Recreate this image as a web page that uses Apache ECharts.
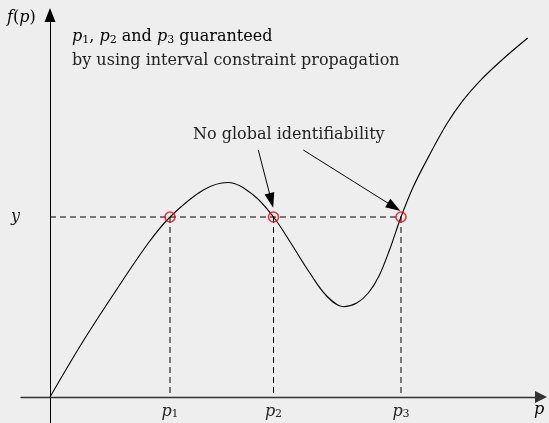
<!DOCTYPE html>
<html>
<head>
<meta charset="utf-8">
<script src="https://cdn.jsdelivr.net/npm/echarts@6/dist/echarts.min.js"></script>
<style>
  html, body { margin: 0; padding: 0; background: #eeeeee; }
  #chart { width: 549px; height: 423px; }
</style>
</head>
<body>
<div id="chart"></div>
<script>
// f(p): rises, peaks, dips, then rises again
const curveP = [0, 3.2, 6.5, 9.8, 12.0, 15.33, 17.8, 20.33, 22.35,
  24.0, 26.0, 27.67, 29.33, 30.67, 31.83, 32.9, 33.95, 35.1,
  36.33, 38.0, 39.67, 41.3, 43.0, 45.3, 47.77];
const curveF = [0, 5.4, 10.5, 15.35, 18.0, 20.7, 21.45, 20.2, 18.0,
  15.53, 12.37, 10.1, 9.03, 9.4, 10.4, 12.1, 14.7, 18.0,
  21.03, 24.3, 27.3, 29.66, 31.62, 33.8, 35.9];

// level y and the three parameters p1, p2, p3 with f(p) = y
const levelY = 18.0;
const solutionP = [12.0, 22.35, 35.1];
const solutionSub = ['1', '2', '3'];

// annotation arrows: [start, end] in data units
const arrowStarts = [[20.83, 24.7], [25.33, 24.7]];
const arrowEnds = [[22.13, 19.65], [34.41, 19.0]];

const FONT = "'DejaVu Serif', serif";
const FS = 16;
const TXT = '#222';
const richMath = {
  i: { fontFamily: FONT, fontStyle: 'italic', fontSize: FS, color: TXT },
  s: { fontFamily: FONT, fontSize: 11, color: TXT, verticalAlign: 'bottom', padding: [6, 0, 0, 0] },
  n: { fontFamily: FONT, fontSize: FS, color: TXT }
};

const curveData = curveP.map((p, k) => [p, curveF[k]]);

const series = [
  {
    type: 'line',
    data: curveData,
    smooth: 0.35,
    showSymbol: false,
    lineStyle: { color: '#000', width: 1.1 },
    silent: true,
    z: 3
  },
  {
    type: 'line',
    data: [[0, levelY], [solutionP[2], levelY]],
    showSymbol: false,
    lineStyle: { color: '#000', width: 1, type: [6, 4] },
    silent: true,
    z: 2
  }
];

solutionP.forEach(p => {
  series.push({
    type: 'line',
    data: [[p, levelY], [p, 0]],
    showSymbol: false,
    lineStyle: { color: '#000', width: 1, type: [6, 4] },
    silent: true,
    z: 2
  });
});

series.push({
  type: 'scatter',
  data: solutionP.map(p => [p, levelY]),
  symbol: 'circle',
  symbolSize: 10,
  itemStyle: { color: 'rgba(0,0,0,0)', borderColor: '#ff0000', borderWidth: 1.6 },
  silent: true,
  z: 5,
  markLine: {
    silent: true,
    symbol: ['none', 'triangle'],
    symbolSize: [10, 15],
    label: { show: false },
    lineStyle: { color: '#000', width: 1, type: 'solid' },
    data: arrowStarts.map((s, k) => [{ coord: s }, { coord: arrowEnds[k] }])
  }
});

const chart = echarts.init(document.getElementById('chart'));
chart.setOption({
  backgroundColor: '#eeeeee',
  animation: false,
  grid: { left: 21, right: 8, top: 15, bottom: 0, containLabel: false, outerBoundsMode: 'none' },
  xAxis: {
    type: 'value',
    min: -2.9,
    max: 49.1,
    splitLine: { show: false },
    axisTick: { show: false },
    axisLine: {
      onZero: true,
      symbol: ['none', 'triangle'],
      symbolSize: [12, 12],
      lineStyle: { color: '#333', width: 1.4 }
    },
    axisLabel: {
      customValues: solutionP,
      margin: -20,
      formatter: v => '{i|p}{s|' + solutionSub[solutionP.indexOf(v)] + '}',
      rich: richMath
    }
  },
  yAxis: {
    type: 'value',
    min: -2.6,
    max: 38.2,
    splitLine: { show: false },
    axisTick: { show: false },
    axisLine: {
      onZero: true,
      symbol: ['none', 'triangle'],
      symbolSize: [11, 14],
      lineStyle: { color: '#000', width: 1 }
    },
    axisLabel: {
      customValues: [levelY],
      margin: 1,
      formatter: () => '{i|y}',
      rich: richMath
    }
  },
  graphic: [
    {
      type: 'text', left: 7, top: 10,
      style: { text: '{i|f}{n|(}{i|p}{n|)}', rich: richMath }
    },
    {
      type: 'text', left: 72, top: 29,
      style: { text: '{i|p}{s|1}{n|, }{i|p}{s|2}{n| and }{i|p}{s|3}{n| guaranteed}', rich: richMath }
    },
    {
      type: 'text', left: 72, top: 53,
      style: { text: 'by using interval constraint propagation', font: FS + 'px ' + FONT, fill: TXT }
    },
    {
      type: 'text', left: 193, top: 127,
      style: { text: 'No global identifiability', font: FS + 'px ' + FONT, fill: TXT }
    },
    {
      type: 'text', left: 534, top: 402,
      style: { text: '{i|p}', rich: richMath }
    }
  ],
  series: series
});
</script>
</body>
</html>
